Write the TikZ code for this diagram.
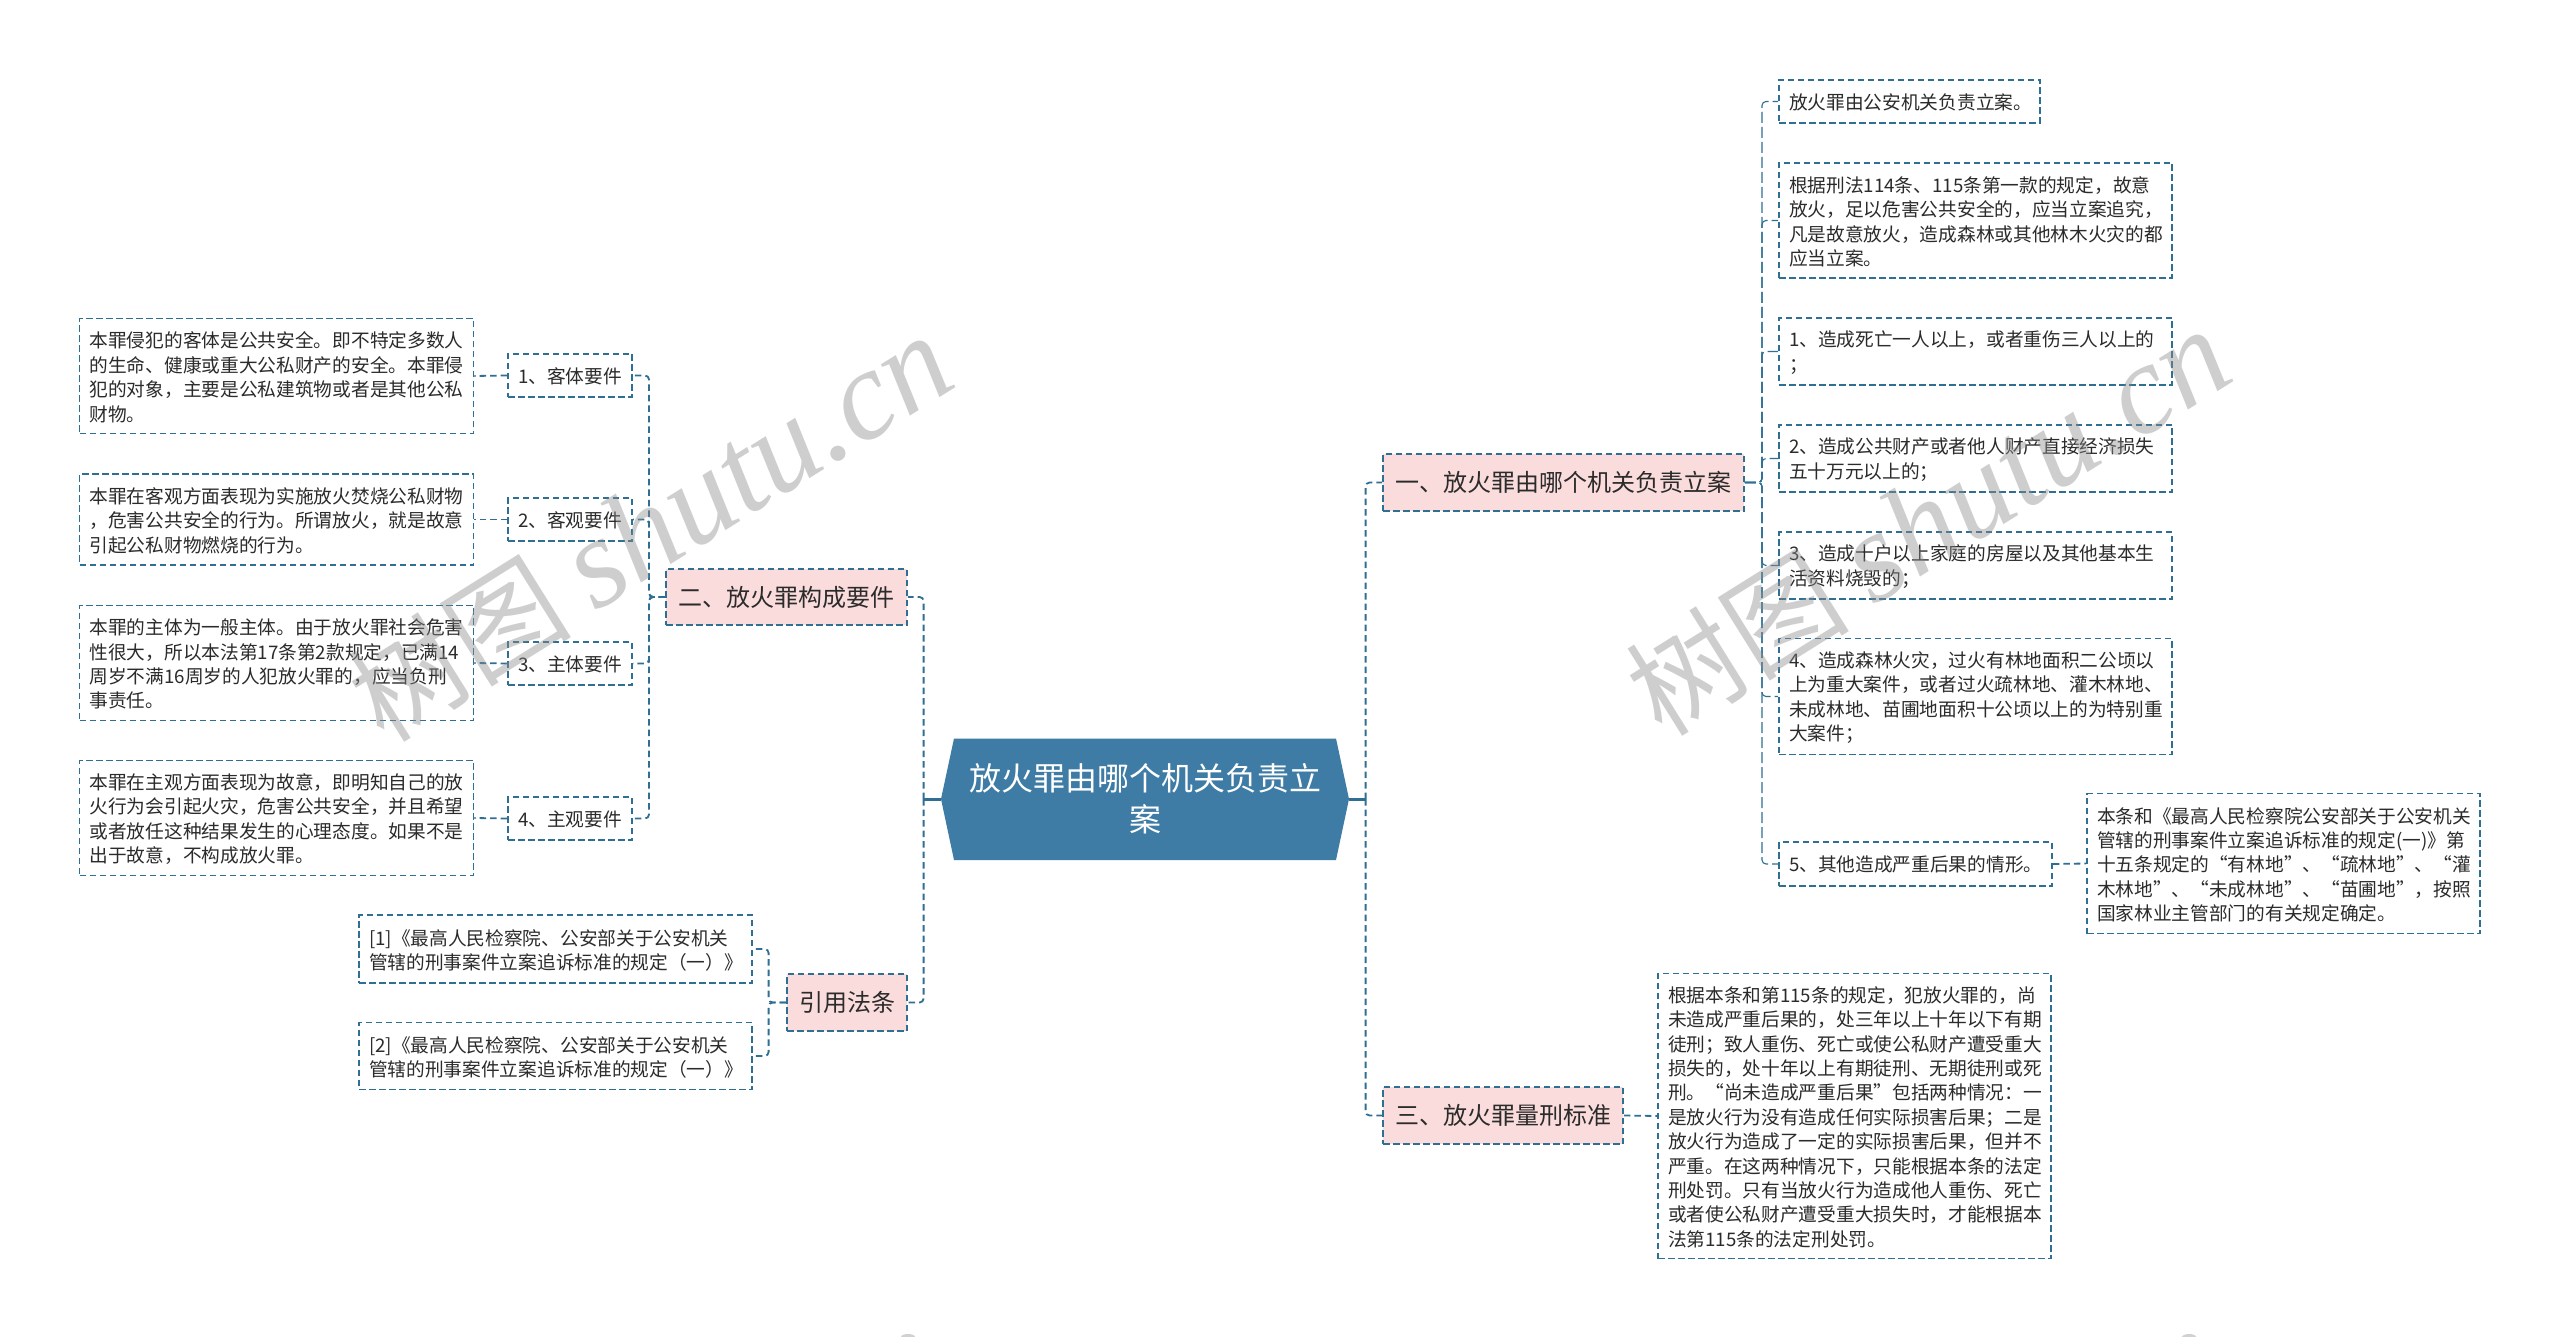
\documentclass[tikz,border=0pt]{standalone}
\usepackage{fontspec}
\setmainfont{Noto Sans CJK SC}
\newfontfamily\wmlatin{Liberation Serif}
\usetikzlibrary{calc}
\definecolor{linkc}{HTML}{2F6F93}
\definecolor{rootc}{HTML}{3E7CA5}
\definecolor{pinkc}{HTML}{FBDCDC}
\definecolor{textc}{HTML}{2B2B2B}
\tikzset{
  x=1pt,y=-1pt,
  dashbox/.style={draw=linkc,line width=1.6pt,dash pattern=on 6.5pt off 3.5pt,rectangle,inner xsep=0pt,inner ysep=0pt,text=textc},
  leaf/.style 2 args={dashbox,align=left,font=\fontsize{18.7}{24.4}\selectfont,text width=#1-20pt,inner xsep=10pt,minimum height=#2,execute at end node={\par\kern-2.5pt}},
  sub/.style 2 args={dashbox,align=center,font=\fontsize{18.7}{24.4}\selectfont,text width=#1,minimum height=#2,execute at end node={\par\kern-2.5pt}},
  branch/.style 2 args={dashbox,fill=pinkc,align=center,font=\fontsize{24}{30}\selectfont,minimum width=#1,minimum height=#2},
  root/.style={rectangle,align=center,text=white,inner sep=0pt,font=\fontsize{32}{41}\selectfont,minimum width=408pt,minimum height=122pt},
  link/.style={draw=linkc,line width=1.8pt,dash pattern=on 6.5pt off 4pt,rounded corners=4pt},
  thinlink/.style={draw=linkc,line width=1.1pt,dash pattern=on 11pt off 4pt,rounded corners=4pt},
  rootlink/.style={draw=linkc,line width=3pt},
  wm/.style={text=black!45,opacity=.42,rotate=32,inner sep=0pt,anchor=center},
}
\begin{document}
\begin{tikzpicture}
\useasboundingbox (0,0) rectangle (2560,1337);
\fill[white] (0,0) rectangle (2560,1337);
% root
\fill[rootc] (941,799) -- (954,738.5) -- (1336,738.5) -- (1349,799) -- (1336,860) -- (954,860) -- cycle;
\node[root] (rt) at (1145,799) {放火罪由哪个机关负责立\\案};
% branches
\node[branch={241pt}{56pt}] (b2) at (786.5,597) {二、放火罪构成要件};
\node[branch={120pt}{57pt}] (b4) at (847,1002.5) {引用法条};
\node[branch={361pt}{57pt}] (b1) at (1563.5,482.5) {一、放火罪由哪个机关负责立案};
\node[branch={240pt}{57pt}] (b3) at (1503,1115.5) {三、放火罪量刑标准};
% left subs
\node[sub={124pt}{43pt}] (m1) at (570,375.5) {1、客体要件};
\node[sub={124pt}{43pt}] (m2) at (570,519.5) {2、客观要件};
\node[sub={124pt}{43pt}] (m3) at (570,663.5) {3、主体要件};
\node[sub={124pt}{43pt}] (m4) at (570,818.5) {4、主观要件};
% left leaves
\node[leaf={394pt}{115pt}] (l1) at (276.5,376) {本罪侵犯的客体是公共安全。即不特定多数人\\的生命、健康或重大公私财产的安全。本罪侵\\犯的对象，主要是公私建筑物或者是其他公私\\财物。};
\node[leaf={394pt}{91pt}] (l2) at (276.5,519.5) {本罪在客观方面表现为实施放火焚烧公私财物\\，危害公共安全的行为。所谓放火，就是故意\\引起公私财物燃烧的行为。};
\node[leaf={394pt}{115pt}] (l3) at (276.5,663) {本罪的主体为一般主体。由于放火罪社会危害\\性很大，所以本法第17条第2款规定，已满14\\周岁不满16周岁的人犯放火罪的，应当负刑\\事责任。};
\node[leaf={394pt}{115pt}] (l4) at (276.5,818) {本罪在主观方面表现为故意，即明知自己的放\\火行为会引起火灾，危害公共安全，并且希望\\或者放任这种结果发生的心理态度。如果不是\\出于故意，不构成放火罪。};
% refs
\node[leaf={393pt}{68pt}] (r1) at (555.5,949) {[1]《最高人民检察院、公安部关于公安机关\\管辖的刑事案件立案追诉标准的规定（一）》};
\node[leaf={393pt}{67pt}] (r2) at (555.5,1056) {[2]《最高人民检察院、公安部关于公安机关\\管辖的刑事案件立案追诉标准的规定（一）》};
% right leaves
\node[leaf={261pt}{43pt}] (a1) at (1909.5,101.5) {放火罪由公安机关负责立案。};
\node[leaf={393pt}{115pt}] (a2) at (1975.5,220.5) {根据刑法114条、115条第一款的规定，故意\\放火，足以危害公共安全的，应当立案追究，\\凡是故意放火，造成森林或其他林木火灾的都\\应当立案。};
\node[leaf={393pt}{67pt}] (a3) at (1975.5,351.5) {1、造成死亡一人以上，或者重伤三人以上的\\；};
\node[leaf={393pt}{67pt}] (a4) at (1975.5,458.5) {2、造成公共财产或者他人财产直接经济损失\\五十万元以上的；};
\node[leaf={393pt}{67pt}] (a5) at (1975.5,565.5) {3、造成十户以上家庭的房屋以及其他基本生\\活资料烧毁的；};
\node[leaf={393pt}{116pt}] (a6) at (1975.5,696.5) {4、造成森林火灾，过火有林地面积二公顷以\\上为重大案件，或者过火疏林地、灌木林地、\\未成林地、苗圃地面积十公顷以上的为特别重\\大案件；};
\node[leaf={273pt}{44pt}] (a7) at (1915.5,864) {5、其他造成严重后果的情形。};
\node[leaf={393pt}{140pt}] (a8) at (2283.5,863.5) {本条和《最高人民检察院公安部关于公安机关\\管辖的刑事案件立案追诉标准的规定(一)》第\\十五条规定的“有林地”、“疏林地”、“灌\\木林地”、“未成林地”、“苗圃地”，按照\\国家林业主管部门的有关规定确定。};
\node[leaf={393pt}{285pt}] (a9) at (1854.5,1116) {根据本条和第115条的规定，犯放火罪的，尚\\未造成严重后果的，处三年以上十年以下有期\\徒刑；致人重伤、死亡或使公私财产遭受重大\\损失的，处十年以上有期徒刑、无期徒刑或死\\刑。“尚未造成严重后果”包括两种情况：一\\是放火行为没有造成任何实际损害后果；二是\\放火行为造成了一定的实际损害后果，但并不\\严重。在这两种情况下，只能根据本条的法定\\刑处罚。只有当放火行为造成他人重伤、死亡\\或者使公私财产遭受重大损失时，才能根据本\\法第115条的法定刑处罚。};
% bus coordinates
\coordinate (busL) at (923.6,799);
\coordinate (busR) at (1365.6,799);
\coordinate (busM) at (649,597);
\coordinate (busF) at (768.6,1002.5);
\coordinate (busA) at (1762,482.5);
% connectors
\draw[rootlink] (rt.west) -- (busL);
\draw[rootlink] (rt.east) -- (busR);
\draw[link] (busL) |- (b2.east);
\draw[link] (busL) |- (b4.east);
\draw[link] (busR) |- (b1.west);
\draw[link] (busR) |- (b3.west);
\foreach \m in {m1,m2,m3,m4}{\draw[link] (b2.west) -- (busM) |- (\m.east);}
\draw[link] (m1.west) -- (l1.east);
\draw[link] (m2.west) -- (l2.east);
\draw[link] (m3.west) -- (l3.east);
\draw[link] (m4.west) -- (l4.east);
\draw[link] (b4.west) -- (busF) |- (r1.east);
\draw[link] (b4.west) -- (busF) |- (r2.east);
\foreach \a in {a1,a2,a3,a4,a5,a6,a7}{\draw[thinlink] (b1.east) -- (busA) |- (\a.west);}
\draw[link] (a7.east) -- (a8.west);
\draw[link] (b3.east) -- (a9.west);
% watermarks
\node[wm,font=\fontsize{112}{112}\selectfont] (w1) at (650,528) {树图 {\wmlatin\itshape\fontsize{128}{128}\selectfont shutu.cn}};
\node[wm,font=\fontsize{112}{112}\selectfont] (w2) at (1928,522) {树图 {\wmlatin\itshape\fontsize{128}{128}\selectfont shutu.cn}};
\fill[black!18] (908,1337) ellipse [x radius=7,y radius=3];
\fill[black!18] (2189,1337) ellipse [x radius=7,y radius=3];
\end{tikzpicture}
\end{document}
